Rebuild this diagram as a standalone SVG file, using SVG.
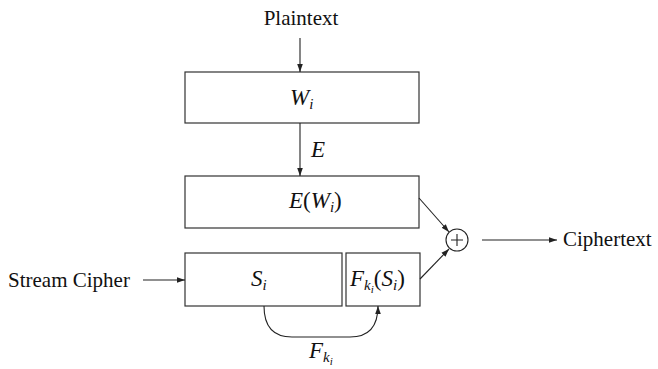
<svg xmlns="http://www.w3.org/2000/svg" width="658" height="369" viewBox="0 0 658 369">
<style>
.box{fill:#fff;stroke:#333;stroke-width:1.2}
.ln{fill:none;stroke:#222;stroke-width:1.1}
.t{font-family:"Liberation Serif",serif;font-size:21px;fill:#111}
.m{font-family:"Liberation Serif",serif;font-size:23px;font-style:italic;fill:#111}
.u{font-style:normal}
.s{font-size:15px}
.ss{font-size:11px}
</style>
<defs>
<marker id="ah" viewBox="0 0 10 10" refX="10" refY="5" markerWidth="8" markerHeight="8" markerUnits="userSpaceOnUse" orient="auto">
<path d="M0,1.5 L10,5 L0,8.5 Z" fill="#222"/>
</marker>
</defs>
<rect width="658" height="369" fill="#fff"/>
<g id="plaintext"><text class="t" x="301" y="25" text-anchor="middle">Plaintext</text></g>
<g id="wi"><rect class="box" x="185" y="72" width="234" height="51"/><text class="m" x="290" y="105">W<tspan class="s" dy="4">i</tspan></text></g>
<g id="ewi"><rect class="box" x="185" y="176" width="234" height="52"/><text class="m" x="289" y="208">E<tspan class="u">(</tspan>W<tspan class="s" dy="4">i</tspan><tspan class="u" dy="-4">)</tspan></text></g>
<g id="si"><rect class="box" x="185" y="253" width="157" height="53"/><text class="m" x="251" y="286">S<tspan class="s" dy="4">i</tspan></text></g>
<g id="fsi"><rect class="box" x="346" y="253" width="74" height="53"/><text class="m" x="350" y="286">F<tspan class="s" dy="4">k</tspan><tspan class="ss" dy="3">i</tspan><tspan class="u" dy="-7">(</tspan>S<tspan class="s" dy="4">i</tspan><tspan class="u" dy="-4">)</tspan></text></g>
<g id="xor"><circle class="ln" cx="457" cy="240" r="11"/><path class="ln" d="M451,240 H463 M457,234 V246"/></g>
<g id="stream"><text class="t" x="8" y="287">Stream Cipher</text></g>
<g id="cipher"><text class="t" x="563" y="246">Ciphertext</text></g>
<g id="labels">
<text class="m" x="311" y="157">E</text>
<text class="m" x="309" y="358">F<tspan class="s" dy="4">k</tspan><tspan class="ss" dy="3">i</tspan></text>
</g>
<g id="connectors">
<path class="ln" d="M300,38 V72" marker-end="url(#ah)"/>
<path class="ln" d="M300,123 V176" marker-end="url(#ah)"/>
<path class="ln" d="M419,198 L449,232" marker-end="url(#ah)"/>
<path class="ln" d="M420,279 L449,249" marker-end="url(#ah)"/>
<path class="ln" d="M482,240 H557" marker-end="url(#ah)"/>
<path class="ln" d="M143,280 H185" marker-end="url(#ah)"/>
<path class="ln" d="M264,306 Q264,337 292,337 H350 Q378,337 378,306" marker-end="url(#ah)"/>
</g>
</svg>
